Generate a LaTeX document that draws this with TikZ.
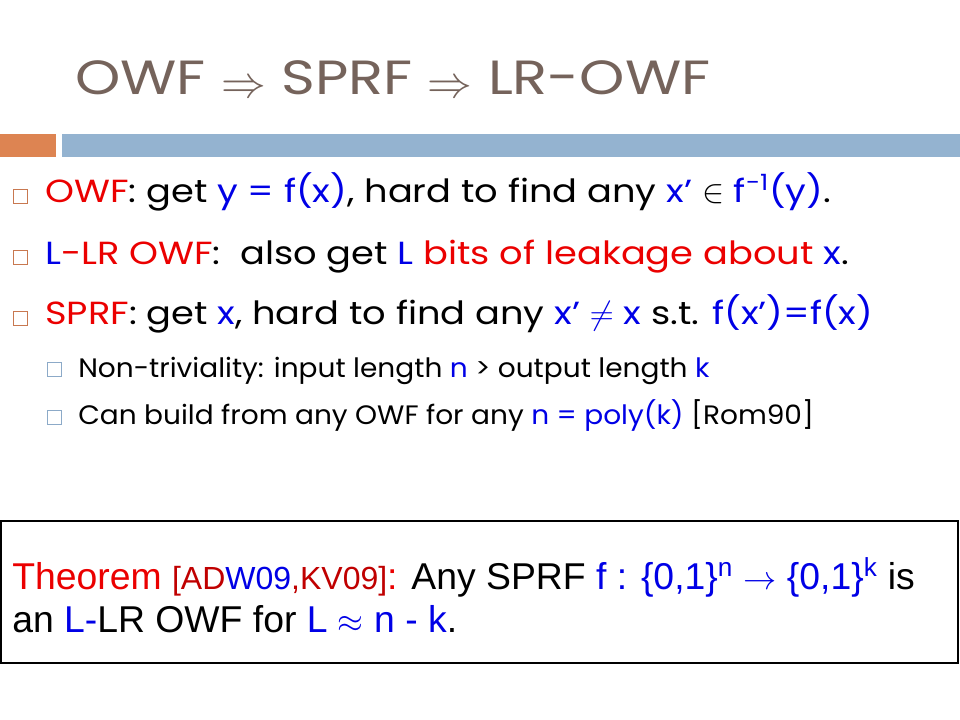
\documentclass[tikz,border=0pt]{standalone}
\usepackage{amssymb}
\usepackage{amsmath}
\usepackage{fontspec}
\setmainfont{Poppins}
\newfontfamily\ttlfont[FakeStretch=1.2]{Poppins}
\newfontfamily\itemfont[FakeStretch=1.15]{Poppins}
\newfontfamily\subfont[FakeStretch=1.05]{Poppins}
\newfontfamily\thmfont{Liberation Sans}
\usepackage{tikz}
\usetikzlibrary{backgrounds}
\definecolor{titlegray}{RGB}{117,99,91}
\definecolor{barorange}{RGB}{221,132,82}
\definecolor{barblue}{RGB}{148,179,208}
\definecolor{hred}{RGB}{235,0,0}
\definecolor{hblue}{RGB}{0,0,230}
\definecolor{citered}{RGB}{192,0,0}
\definecolor{sqorange}{RGB}{200,120,80}
\definecolor{sqblue}{RGB}{140,170,200}
\tikzstyle{slide}=[x=0.75pt, y=-0.75pt]
\tikzstyle{ttl}=[anchor=base west, inner sep=0pt, text=titlegray, font=\ttlfont\fontsize{36}{42}\selectfont]
\tikzstyle{item}=[anchor=base west, inner sep=0pt, font=\itemfont\fontsize{24}{29}\selectfont]
\tikzstyle{subitem}=[anchor=base west, inner sep=0pt, font=\subfont\fontsize{20}{24}\selectfont]
\tikzstyle{sq}=[rectangle, draw=sqorange, line width=0.7pt, inner sep=0pt, minimum size=10.5pt]
\tikzstyle{subsq}=[sq, draw=sqblue]
\tikzstyle{thmbox}=[draw=black, line width=2pt]
\tikzstyle{thm}=[anchor=base west, inner sep=0pt, font=\thmfont\fontsize{28}{34}\selectfont]
\newcommand{\hr}[1]{\textcolor{hred}{#1}}
\newcommand{\hb}[1]{\textcolor{hblue}{#1}}
\newcommand{\bigimp}{\raisebox{-0.05em}{\scalebox{1.35}{$\Rightarrow$}}}

\begin{document}
\begin{tikzpicture}[slide]
	\useasboundingbox (0,0) rectangle (960,720);
	\fill[white] (0,0) rectangle (960,720);
	% title and bars
	\draw (75,95) node[ttl] (title) {OWF \bigimp{} SPRF \bigimp{} LR-OWF};
	\fill[barorange] (0,134) rectangle (56,157);
	\fill[barblue] (62,134) rectangle (960,157);
	% bullets
	\draw (20,196) node[sq] (b1) {};
	\draw (45,203) node[item] (l1) {\hr{OWF}: get \hb{y = f(x)}, hard to find any \hb{x’} $\in$ \hb{f\textsuperscript{-1}(y)}.};
	\draw (20,257) node[sq] (b2) {};
	\draw (45,265) node[item] (l2) {\hb{L}\hr{-LR OWF}:\ \ also get \hb{L} \hr{bits of leakage about} \hb{x}.};
	\draw (20,318) node[sq] (b3) {};
	\draw (45,325) node[item] (l3) {\hr{SPRF}: get \hb{x}, hard to find any \hb{x’ $\neq$ x} s.t. \hb{f(x’)=f(x)}};
	\draw (54,369) node[subsq] (s1) {};
	\draw (78,377) node[subitem] (l4) {Non-triviality: input length \hb{n} > output length \hb{k}};
	\draw (54,417) node[subsq] (s2) {};
	\draw (78,424) node[subitem] (l5) {Can build from any OWF for any \hb{n = poly(k)} [Rom90]};
	% theorem
	\draw[thmbox] (1,521) rectangle (958,663);
	\draw (12,589) node[thm] (t1) {\hr{Theorem} {\fontsize{24}{28}\selectfont\color{citered}[AD\hb{W09},KV09]}\hr{:} Any SPRF \hb{f : \{0,1\}\textsuperscript{n} $\rightarrow$ \{0,1\}\textsuperscript{k}} is};
	\draw (12,632) node[thm] (t2) {an \hb{L-}LR OWF for \hb{L $\approx$ n - k}.};
\end{tikzpicture}
\end{document}
